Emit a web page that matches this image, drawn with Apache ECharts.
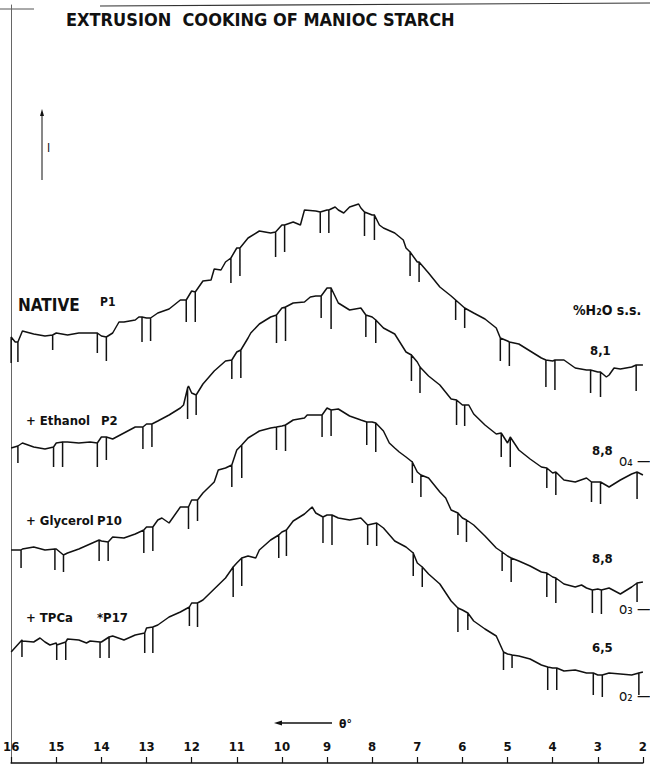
<!DOCTYPE html>
<html><head><meta charset="utf-8">
<script src="https://cdn.jsdelivr.net/npm/echarts@6/dist/echarts.min.js"></script>
<style>html,body{margin:0;padding:0;background:#fff}#c{width:650px;height:768px}</style>
</head><body><div id="c"></div><script>
// Diffraction angle grid (theta, degrees) for the read-off intensities
const thetaGrid = [16,15.75,15.5,15.25,15,14.75,14.5,14.25,14,13.75,13.5,13.25,13,
  12.75,12.5,12.25,12,11.75,11.5,11.25,11,10.75,10.5,10.25,10,
  9.75,9.5,9.25,9,8.75,8.5,8.25,8,7.75,7.5,7.25,7,
  6.75,6.5,6.25,6,5.75,5.5,5.25,5,4.75,4.5,4.25,4,
  3.75,3.5,3.25,3,2.75,2.5,2.25,2];
const thetaTicks = [16,15,14,13,12,11,10,9,8,7,6,5,4,3,2];

// Intensity (arbitrary units, offset traces as drawn)
const nativeP1 = [423,432,429,427,430,428,430,430,427,430,441,443,445,
  450,454,463,472,482,494,501,515,525,532,530,538,
  541,553,552,553,553,556,555,548,535,530,515,501,
  490,476,467,457,450,444,435,422,419,412,405,402,
  403,395,393,391,388,394,396,398];
const ethanolP2 = [315,320,316,314,320,321,320,321,326,324,330,336,339,
  342,348,355,370,379,392,402,411,425,439,446,455,
  460,461,467,475,460,453,455,446,435,429,411,401,
  387,378,364,358,349,338,329,320,313,304,296,290,
  283,281,285,281,276,283,289,288];
const glycerolP10 = [213,214,216,213,214,210,214,219,222,226,225,229,236,
  243,240,256,263,270,281,295,313,325,332,335,337,
  343,345,348,355,354,347,343,341,332,315,306,291,
  285,271,253,245,238,227,215,207,202,197,191,186,
  179,176,175,174,175,169,176,181];
const tpcaP17 = [111,122,121,121,120,124,123,122,121,127,123,128,135,
  138,146,151,160,163,174,185,200,207,213,223,231,
  242,249,250,248,245,243,245,239,235,222,216,200,
  189,179,162,153,142,134,127,109,107,104,98,95,
  92,93,90,88,90,89,88,91];

// Extra readings between grid points [theta, intensity]
const nativeExtra = [[15.91,421],[13.61,441],[13.17,446],[11.57,483],[11.35,493],[9.59,538],
  [8.82,556],[8.63,550],[8.30,559],[7.84,538],[7.31,523],[2.81,386],[2.64,395]];
const ethanolExtra = [[12.18,358],[12.07,377],[10.69,430],[9.37,466],[5.86,358]];
const glycerolExtra = [[12.66,245],[11.41,293],[9.44,348],[7.62,320],[7.40,311],[6.37,265],[3.36,178]];
const tpcaExtra = [[15.36,125],[15.14,118],[14.33,120],[10.58,205],[9.33,256]];

// Recorder marker spikes [theta, top, bottom]
const nativeSpikes = [[16,426,400],[15.85,421,401],[15.08,428,413],[14.09,430,410],[13.89,426,402],
  [13.10,446,421],[12.91,445,422],[12.12,463,441],[11.92,471,441],[11.13,505,480],[10.93,515,487],
  [10.14,531,506],[9.94,538,511],[9.15,551,530],[8.96,553,530],[8.17,551,527],[7.95,548,523],
  [7.16,511,487],[6.96,501,481],[6.15,463,443],[5.95,455,435],[5.16,425,402],[4.96,421,397],
  [4.15,403,376],[3.95,403,373],[3.16,393,370],[2.94,391,366],[2.15,398,372]];
const ethanolSpikes = [[15.85,317,300],[15.06,316,296],[14.86,321,296],[14.09,320,296],[13.89,326,303],
  [13.08,336,314],[12.88,339,316],[12.09,375,344],[11.90,368,348],[11.11,403,384],[10.91,413,385],
  [10.12,448,420],[9.92,456,422],[9.13,467,445],[8.91,475,434],[8.14,448,426],[7.92,443,420],
  [7.13,408,382],[6.94,396,370],[6.13,363,338],[5.95,358,337],[5.14,330,306],[4.94,326,296],
  [4.13,295,275],[3.93,291,268],[3.14,281,261],[2.94,281,259],[2.13,291,264]];
const glycerolSpikes = [[15.78,213,195],[15.03,214,193],[14.84,208,191],[14.05,223,202],[13.85,221,202],
  [13.06,233,210],[12.86,236,212],[12.07,256,234],[11.87,263,242],[11.11,298,276],[10.89,318,285],
  [10.12,336,313],[9.92,338,312],[9.11,348,326],[8.91,353,327],[8.12,341,318],[7.92,340,311],
  [7.11,301,280],[6.92,288,266],[6.10,250,228],[5.91,243,221],[5.12,211,192],[4.92,205,181],
  [4.13,190,166],[3.93,185,160],[3.12,173,150],[2.92,173,149],[2.13,180,161]];
const tpcaSpikes = [[15.76,123,106],[14.99,118,103],[14.79,121,103],[14.03,121,105],[13.83,126,105],
  [13.04,130,110],[12.86,136,110],[12.05,156,137],[11.87,160,136],[11.08,196,166],[10.89,205,177],
  [10.07,228,205],[9.90,233,207],[9.09,246,220],[8.89,248,218],[8.10,238,218],[7.90,240,217],
  [7.09,210,187],[6.89,196,176],[6.10,155,131],[5.88,150,133],[5.09,111,93],[4.90,108,95],
  [4.11,96,73],[3.91,95,73],[3.10,90,68],[2.90,88,66],[2.09,90,68]];

const sampleNames = ['NATIVE','+ Ethanol','+ Glycerol','+ TPCa'];
const sampleCodes = ['P1','P2','P10','*P17'];
const waterContent = ['8,1','8,8','8,8','6,5'];
const baselineMarks = ['o\u2084 \u2014','o\u2083 \u2014','o\u2082 \u2014'];
const waterHeader = '%H\u2082O s.s.';
const titleText = 'EXTRUSION  COOKING OF MANIOC STARCH';

function buildTrace(values, extra, spikes) {
  const groups = [];
  thetaGrid.forEach((t, i) => groups.push({t: t, pts: [[t, values[i]]]}));
  extra.forEach(p => groups.push({t: p[0], pts: [p]}));
  spikes.forEach(s => groups.push({t: s[0], pts: [[s[0], s[1]], [s[0], s[2]], [s[0], s[1]]]}));
  groups.sort((a, b) => b.t - a.t);
  const out = [];
  groups.forEach(g => g.pts.forEach(p => out.push(p)));
  return out;
}

const traces = [
  buildTrace(nativeP1, nativeExtra, nativeSpikes),
  buildTrace(ethanolP2, ethanolExtra, ethanolSpikes),
  buildTrace(glycerolP10, glycerolExtra, glycerolSpikes),
  buildTrace(tpcaP17, tpcaExtra, tpcaSpikes)
];

const FONT = "'Liberation Sans Narrow','DejaVu Sans Condensed','Liberation Sans',sans-serif";
const INK = '#111';

const chart = echarts.init(document.getElementById('c'), null, {renderer: 'svg'});

function txt(x, y, s, size, weight) {
  return {type: 'text', x: x, y: y, silent: true,
    style: {text: s, fill: INK, font: (weight || 'bold') + ' ' + size + 'px ' + FONT, textVerticalAlign: 'middle'}};
}

const labelY = [305, 420, 520, 617];
const codeX = [100, 101, 97, 97];
const waterY = [350, 450, 558, 647];
const markY = [461, 609, 696];

const graphics = [
  {type: 'line', silent: true, shape: {x1: 0, y1: 9, x2: 34, y2: 9}, style: {stroke: '#555', lineWidth: 1}},
  {type: 'line', silent: true, shape: {x1: 100, y1: 6, x2: 650, y2: 3}, style: {stroke: '#333', lineWidth: 1.2}},
  // intensity arrow
  {type: 'line', silent: true, shape: {x1: 42, y1: 180, x2: 42, y2: 113}, style: {stroke: INK, lineWidth: 1}},
  {type: 'polygon', silent: true, shape: {points: [[40, 116], [44, 116], [42, 109]]}, style: {fill: INK}},
  txt(47, 148, 'I', 12, 'normal'),
  // theta arrow
  {type: 'line', silent: true, shape: {x1: 332, y1: 723, x2: 280, y2: 723}, style: {stroke: INK, lineWidth: 1.3}},
  {type: 'polygon', silent: true, shape: {points: [[282, 720.5], [282, 725.5], [274, 723]]}, style: {fill: INK}},
  txt(339, 724, '\u03B8\u00B0', 12)
];
sampleNames.forEach((n, i) => {
  graphics.push(txt(i === 0 ? 18 : 26, labelY[i], n, i === 0 ? 17 : 13));
  graphics.push(txt(codeX[i], labelY[i] - (i === 0 ? 3 : 0), sampleCodes[i], i === 0 ? 12 : 13));
  graphics.push(txt(i === 0 ? 590 : 592, waterY[i], waterContent[i], 13));
});
baselineMarks.forEach((m, i) => {
  graphics.push(txt(619, markY[i], m, 15, 'normal'));
});
graphics.push(txt(573, 310, waterHeader, 14));

chart.setOption({
  animation: false,
  backgroundColor: '#fff',
  title: {text: titleText, left: 61, top: 5,
    textStyle: {fontFamily: FONT, fontWeight: 'bold', fontSize: 18, color: INK}},
  grid: {left: 11, right: 1, top: 5, bottom: 5, containLabel: false},
  xAxis: {type: 'value', min: 2, max: 16, interval: 1, inverse: true,
    axisLine: {lineStyle: {color: INK, width: 1.5}},
    axisTick: {inside: true, length: 6, lineStyle: {color: INK, width: 1.2}},
    axisLabel: {inside: true, margin: 10, fontFamily: FONT, fontWeight: 'bold', fontSize: 13, color: INK,
      showMinLabel: true, showMaxLabel: true,
      formatter: v => thetaTicks.indexOf(v) >= 0 ? String(v) : ''},
    splitLine: {show: false}},
  yAxis: {type: 'value', min: 0, max: 758,
    axisLine: {show: true, lineStyle: {color: '#666', width: 1}},
    axisTick: {show: false}, axisLabel: {show: false}, splitLine: {show: false}},
  graphic: graphics,
  series: traces.map((d, i) => ({
    name: sampleNames[i] + ' ' + sampleCodes[i], type: 'line', data: d,
    showSymbol: false, symbol: 'none', smooth: false,
    lineStyle: {color: INK, width: 1.5}
  }))
});
</script></body></html>
